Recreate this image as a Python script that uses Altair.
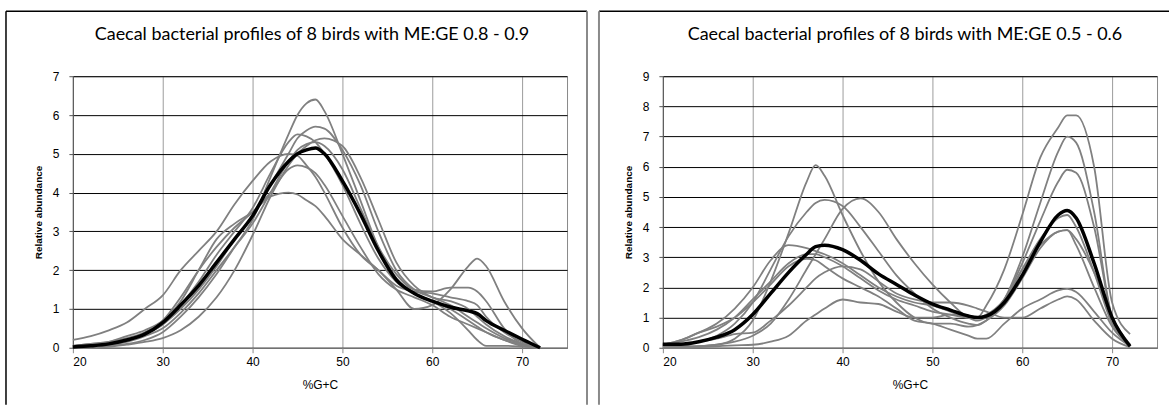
import altair as alt
import pandas as pd

# ---------------- data ----------------
left_title = "Caecal bacterial profiles of 8 birds with ME:GE 0.8 - 0.9"
right_title = "Caecal bacterial profiles of 8 birds with ME:GE 0.5 - 0.6"

x_left = [20, 22, 24, 26, 28, 30, 32, 34, 36, 38, 40, 42, 44, 45, 46, 47, 48,
          50, 52, 54, 56, 58, 60, 62, 64, 65, 66, 68, 70, 72]
left_bird1 = [0.0, 0.02, 0.05, 0.1, 0.2, 0.4, 0.8, 1.3, 1.9, 2.6, 3.3, 4.4, 5.5, 6.0, 6.3, 6.4, 6.1,
              5.0, 3.8, 2.6, 1.8, 1.4, 1.2, 0.9, 0.45, 0.2, 0.05, 0.05, 0.03, 0.0]
left_bird2 = [0.05, 0.08, 0.1, 0.2, 0.35, 0.6, 1.0, 1.5, 2.1, 2.8, 3.4, 4.2, 5.0, 5.4, 5.6, 5.7, 5.65,
              5.1, 4.2, 3.0, 2.0, 1.5, 1.3, 1.1, 0.8, 0.65, 0.5, 0.25, 0.1, 0.0]
left_bird3 = [0.0, 0.05, 0.1, 0.2, 0.35, 0.6, 1.1, 1.7, 2.4, 3.0, 3.6, 4.5, 5.3, 5.5, 5.45, 5.3, 5.0,
              4.2, 3.2, 2.3, 1.7, 1.4, 1.2, 1.0, 0.7, 0.55, 0.4, 0.2, 0.08, 0.0]
left_bird4 = [0.0, 0.0, 0.02, 0.08, 0.15, 0.25, 0.45, 0.8, 1.3, 2.0, 2.9, 3.9, 4.7, 5.0, 5.2, 5.35, 5.4,
              5.2, 4.4, 3.3, 2.2, 1.6, 1.3, 1.2, 1.0, 0.8, 0.6, 0.3, 0.1, 0.0]
left_bird5 = [0.0, 0.05, 0.08, 0.15, 0.3, 0.5, 0.9, 1.4, 2.0, 2.6, 3.2, 4.0, 4.8, 5.1, 5.25, 5.3, 5.2,
              4.6, 3.6, 2.6, 1.9, 1.5, 1.45, 1.55, 1.55, 1.45, 1.2, 0.5, 0.1, 0.0]
left_bird6 = [0.2, 0.3, 0.45, 0.65, 1.0, 1.35, 2.0, 2.5, 3.0, 3.7, 4.3, 4.8, 5.0, 4.95, 4.7, 4.4, 4.0,
              3.1, 2.4, 2.0, 1.6, 1.45, 1.4, 1.3, 1.2, 1.1, 0.8, 0.4, 0.15, 0.0]
left_bird7 = [0.05, 0.1, 0.15, 0.25, 0.4, 0.7, 1.3, 2.0, 2.6, 3.1, 3.5, 4.0, 4.6, 4.7, 4.65, 4.5, 4.2,
              3.4, 2.6, 1.9, 1.5, 1.3, 1.1, 0.8, 0.6, 0.5, 0.4, 0.2, 0.05, 0.0]
left_bird8 = [0.05, 0.1, 0.15, 0.3, 0.45, 0.7, 1.2, 2.0, 2.8, 3.2, 3.5, 3.9, 4.0, 3.95, 3.8, 3.65, 3.4,
              2.8, 2.4, 2.0, 1.5, 1.0, 1.1, 1.5, 2.1, 2.3, 2.1, 1.2, 0.5, 0.0]
left_mean = [0.02, 0.05, 0.1, 0.2, 0.35, 0.65, 1.1, 1.6, 2.2, 2.8, 3.4, 4.2, 4.8, 5.0, 5.1, 5.15, 5.0,
             4.3, 3.45, 2.5, 1.75, 1.4, 1.2, 1.05, 0.95, 0.88, 0.7, 0.45, 0.22, 0.0]

x_right = [20, 22, 24, 26, 28, 30, 32, 34, 36, 37, 38, 40, 42, 44, 46, 48, 50,
           52, 54, 55, 56, 58, 60, 62, 64, 65, 66, 68, 70, 72]
right_bird1 = [0.05, 0.05, 0.05, 0.1, 0.3, 0.9, 2.2, 3.8, 5.5, 6.05, 5.7, 4.4, 3.2, 2.2, 1.5, 1.0, 0.8,
               0.8, 0.7, 0.75, 0.9, 1.4, 2.3, 3.3, 3.85, 3.9, 3.4, 2.0, 0.7, 0.05]
right_bird2 = [0.05, 0.1, 0.2, 0.4, 0.8, 1.5, 2.6, 3.7, 4.5, 4.8, 4.9, 4.7, 4.0, 3.2, 2.4, 1.8, 1.3,
               1.0, 0.8, 0.75, 0.9, 1.6, 3.0, 4.8, 6.5, 7.0, 6.8, 4.5, 1.0, 0.1]
right_bird3 = [0.0, 0.0, 0.05, 0.1, 0.2, 0.4, 0.8, 1.6, 2.6, 3.1, 3.6, 4.6, 4.95, 4.5, 3.6, 2.8, 2.1,
               1.5, 1.0, 0.9, 1.0, 1.6, 2.8, 4.2, 5.5, 5.9, 5.8, 4.0, 1.0, 0.05]
right_bird4 = [0.1, 0.25, 0.5, 0.8, 1.3, 2.0, 2.9, 3.4, 3.3, 3.2, 3.1, 2.8, 2.4, 2.0, 1.7, 1.5, 1.4,
               1.2, 1.0, 1.0, 1.4, 2.6, 4.4, 6.3, 7.3, 7.7, 7.7, 6.0, 1.5, 0.45]
right_bird5 = [0.1, 0.2, 0.35, 0.6, 1.0, 1.6, 2.2, 2.8, 3.1, 3.1, 3.0, 2.7, 2.3, 1.9, 1.6, 1.4, 1.2,
               1.1, 1.0, 1.0, 1.1, 1.6, 2.6, 3.4, 3.85, 3.9, 3.6, 2.5, 1.0, 0.1]
right_bird6 = [0.1, 0.25, 0.5, 0.7, 1.0, 1.5, 2.1, 2.7, 2.95, 2.9, 2.7, 2.3, 2.0, 1.7, 1.3, 0.9, 0.8,
               0.6, 0.4, 0.3, 0.3, 0.8, 1.3, 1.6, 1.9, 1.95, 1.85, 1.2, 0.5, 0.05]
right_bird7 = [0.05, 0.1, 0.2, 0.3, 0.45, 0.5, 0.9, 1.4, 2.0, 2.3, 2.5, 2.7, 2.6, 2.2, 1.8, 1.6, 1.5,
               1.5, 1.4, 1.3, 1.2, 1.0, 1.0, 1.3, 1.6, 1.7, 1.6, 0.9, 0.3, 0.02]
right_bird8 = [0.0, 0.0, 0.02, 0.05, 0.08, 0.1, 0.2, 0.4, 0.9, 1.1, 1.3, 1.6, 1.5, 1.45, 1.2, 1.0, 1.0,
               1.1, 1.05, 1.0, 1.0, 1.5, 2.6, 3.6, 4.3, 4.4, 4.0, 2.5, 0.8, 0.1]
right_mean = [0.12, 0.12, 0.2, 0.35, 0.6, 1.1, 1.8, 2.5, 3.1, 3.35, 3.4, 3.25, 2.9, 2.45, 2.1, 1.75, 1.45,
              1.25, 1.05, 1.0, 1.05, 1.5, 2.4, 3.5, 4.4, 4.55, 4.3, 2.8, 1.0, 0.05]

x_ticks = [20, 30, 40, 50, 60, 70]
x_title = "%G+C"
y_title = "Relative abundance"

left_birds = [left_bird1, left_bird2, left_bird3, left_bird4,
              left_bird5, left_bird6, left_bird7, left_bird8]
right_birds = [right_bird1, right_bird2, right_bird3, right_bird4,
               right_bird5, right_bird6, right_bird7, right_bird8]

PLOT_W = 495
PLOT_H = 272


def to_long(xs, birds):
    rows = []
    for i, ys in enumerate(birds):
        for x, y in zip(xs, ys):
            rows.append({"gc": x, "abundance": y, "bird": f"Bird {i + 1}"})
    return pd.DataFrame(rows)


def make_panel(xs, birds, mean, ymax, title, frame_left, frame_right, is_left, title_dx):
    grey_df = to_long(xs, birds)
    mean_df = pd.DataFrame({"gc": xs, "abundance": mean})
    xscale = alt.Scale(domain=[20, 75], nice=False, zero=False)
    yscale = alt.Scale(domain=[0, ymax], nice=False)
    xaxis = alt.Axis(
        title=x_title, values=x_ticks, grid=True, gridColor="#9c9c9c", gridWidth=1,
        domainColor="#8a8a8a", tickColor="#8a8a8a", tickSize=5,
        labelFont="Liberation Sans", labelFontSize=12, labelColor="black", labelPadding=4,
        titleFont="Liberation Sans", titleFontSize=12, titleFontWeight="normal",
        titleColor="black", titlePadding=12,
    )
    yaxis = alt.Axis(
        title=y_title, values=list(range(ymax + 1)), grid=True, gridColor="black", gridWidth=1,
        domainColor="#555555", tickColor="#555555", tickSize=4,
        labelFont="Liberation Sans", labelFontSize=12, labelColor="black", labelPadding=10,
        titleFont="Liberation Sans", titleFontSize=10, titleFontWeight="bold",
        titleColor="black", titlePadding=9,
    )
    enc = dict(
        x=alt.X("gc:Q", scale=xscale, axis=xaxis),
        y=alt.Y("abundance:Q", scale=yscale, axis=yaxis),
    )
    grey = alt.Chart(grey_df).mark_line(
        color="#808080", strokeWidth=1.8, interpolate="monotone"
    ).encode(detail="bird:N", **enc)
    black = alt.Chart(mean_df).mark_line(
        color="black", strokeWidth=3.5, interpolate="monotone"
    ).encode(**enc)

    one = pd.DataFrame({"k": [0]})
    # outer frame of the figure panel (decoration)
    top = alt.Chart(one).mark_rule(color="black", strokeWidth=1.5).encode(
        x=alt.value(frame_left), x2=alt.value(frame_right), y=alt.value(-65))
    layers = [grey, black, top]
    if is_left:
        lft = alt.Chart(one).mark_rule(color="black", strokeWidth=1.5).encode(
            x=alt.value(frame_left), y=alt.value(-65), y2=alt.value(329))
        rgt = alt.Chart(one).mark_rule(color="#8a8a8a", strokeWidth=2).encode(
            x=alt.value(frame_right), y=alt.value(-65), y2=alt.value(329))
        layers += [lft, rgt]
    else:
        lft = alt.Chart(one).mark_rule(color="#8a8a8a", strokeWidth=2).encode(
            x=alt.value(frame_left), y=alt.value(-65), y2=alt.value(329))
        layers += [lft]

    return alt.layer(*layers).properties(
        width=PLOT_W, height=PLOT_H,
        title=alt.TitleParams(
            text=title, font="Lato", fontSize=18, fontWeight="normal", color="black",
            anchor="middle", frame="group", baseline="alphabetic",
            offset=0, dy=48, dx=title_dx,
        ),
    )


left = make_panel(x_left, left_birds, left_mean, 7, left_title, -67, 515, True, -8)
right = make_panel(x_right, right_birds, right_mean, 9, right_title, -64, 507, False, -5)

chart = alt.hconcat(left, right, spacing=96, bounds="flush").properties(
    padding={"left": 4, "top": 9, "right": 0, "bottom": 0},
    background="white",
).configure_view(stroke="#8a8a8a", strokeWidth=1)

chart.save("out.html", embed_options={"renderer": "svg", "actions": False})
